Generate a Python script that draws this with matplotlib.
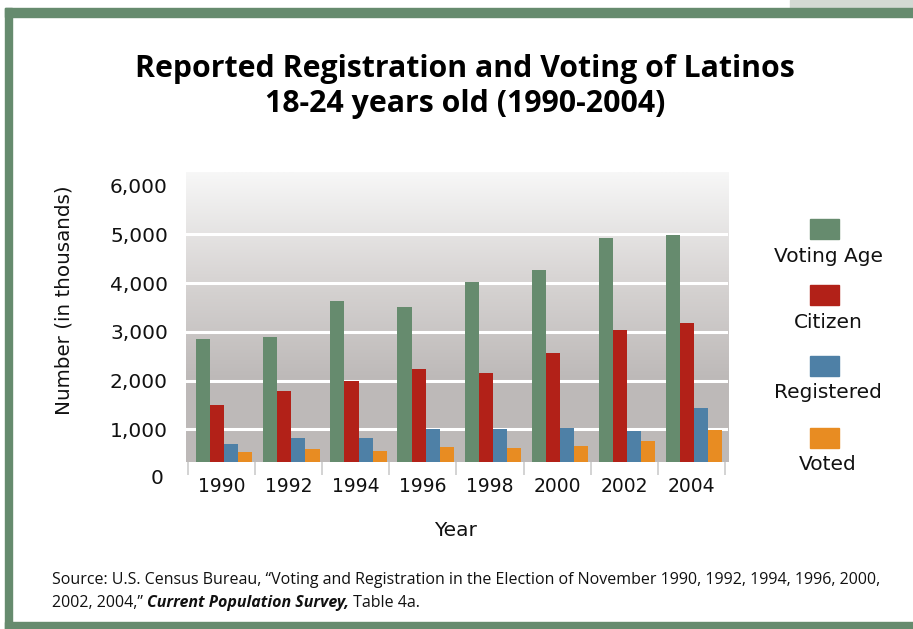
import numpy as np
import matplotlib
matplotlib.use("Agg")
import matplotlib.pyplot as plt
from matplotlib.patches import Rectangle
from matplotlib.colors import LinearSegmentedColormap
import matplotlib.transforms as mtransforms

# Data (in thousands)
years = ["1990", "1992", "1994", "1996", "1998", "2000", "2002", "2004"]
voting_age = [2850, 2890, 3630, 3510, 4020, 4270, 4920, 4990]
citizen = [1500, 1790, 1990, 2240, 2150, 2560, 3040, 3180]
registered = [700, 820, 820, 1010, 1010, 1030, 970, 1440]
voted = [530, 595, 555, 635, 615, 655, 760, 985]

series_names = ["Voting Age", "Citizen", "Registered", "Voted"]
series_values = [voting_age, citizen, registered, voted]
series_colors = ["#668b6e", "#b22118", "#4e80a6", "#e88c22"]
y_ticks = [1000, 2000, 3000, 4000, 5000, 6000]
y_tick_labels = ["1,000", "2,000", "3,000", "4,000", "5,000", "6,000"]

W, H = 913, 629
fig = plt.figure(figsize=(W / 100, H / 100), dpi=100)
fig.patch.set_facecolor("white")

# Frame decoration
def fig_rect(x0, y0, x1, y1, color):
    fig.patches.append(Rectangle((x0 / W, 1 - y1 / H), (x1 - x0) / W, (y1 - y0) / H,
                                 transform=fig.transFigure, color=color, zorder=0))

fig_rect(790, 0, 913, 8, "#d3d9d3")
fig_rect(5, 8, 913, 17, "#668b6e")
fig_rect(5, 8, 12, 629, "#668b6e")
fig_rect(5, 622, 913, 629, "#668b6e")

ax = fig.add_axes([186 / W, 1 - 462 / H, (728 - 186) / W, (462 - 172) / H])

y_min, y_max = 330, 6277
n = len(years)
x = np.arange(n)
ax.set_xlim(-0.53, n - 0.5 + 0.045)
ax.set_ylim(y_min, y_max)

# Gradient background
grad_cmap = LinearSegmentedColormap.from_list(
    "bg", [(0.0, "#bdb9b8"), (0.30, "#bebab9"), (0.65, "#d9d6d5"), (1.0, "#f7f7f7")])
grad = np.linspace(0, 1, 256).reshape(-1, 1)
ax.imshow(grad, cmap=grad_cmap, aspect="auto", origin="lower",
          extent=[0, 1, 0, 1], transform=ax.transAxes, zorder=0)

# Gridlines
for v in y_ticks[:-1]:
    ax.axhline(v, color="white", lw=2.2, zorder=1)

# Bars
bw = 0.21
offsets = (np.arange(4) - 1.5) * bw + 0.04
for vals, col, off in zip(series_values, series_colors, offsets):
    ax.bar(x + off, np.array(vals) - y_min, bw, bottom=y_min, color=col,
           zorder=2, linewidth=0)

for s in ax.spines.values():
    s.set_visible(False)

ax.set_yticks(y_ticks)
ax.set_yticklabels(y_tick_labels, fontsize=14.5, color="#111111")
ax.tick_params(axis="y", length=0, pad=13)
ax.set_xticks(x)
ax.set_xticklabels(years, fontsize=13.5, color="#111111")
ax.tick_params(axis="x", length=0, pad=11)

# Zero label below the plotted range
ytrans = mtransforms.blended_transform_factory(ax.transAxes, ax.transData)
ax.text(-0.042, 0, "0", transform=ytrans, ha="right", va="center",
        fontsize=14.5, color="#111111", clip_on=False)

# Category separators
xtrans = mtransforms.blended_transform_factory(ax.transData, ax.transAxes)
ax.vlines(np.arange(n + 1) - 0.5, -0.045, 0, transform=xtrans, colors="#cccccc",
          lw=1.2, clip_on=False)

ax.set_ylabel("Number (in thousands)", fontsize=14.3, color="#111111")
ax.yaxis.set_label_coords((74 - 186) / (728 - 186), 0.5 - (300 - 317) / 290)
fig.text(455 / W, 1 - 530 / H, "Year", fontsize=14.5, ha="center", va="center",
         color="#111111")

# Title
fig.text(465 / W, 1 - 69 / H, "Reported Registration and Voting of Latinos",
         fontsize=21.8, fontweight="bold", ha="center", va="center",
         family="Open Sans", color="black")
fig.text(465 / W, 1 - 104 / H, "18-24 years old (1990-2004)",
         fontsize=21.8, fontweight="bold", ha="center", va="center",
         family="Open Sans", color="black")

# Legend
sq_tops = [219, 285, 356, 428]
txt_y = [257, 322, 393, 465]
for name, col, top, ty in zip(series_names, series_colors, sq_tops, txt_y):
    fig_rect(810, top, 839, top + 20, col)
    fig.text(828 / W, 1 - ty / H, name, fontsize=14.5, ha="center", va="center",
             color="#111111")

# Source note
src_size = 11.5
fig.text(52 / W, 1 - 580 / H,
         "Source: U.S. Census Bureau, \u201cVoting and Registration in the Election of "
         "November 1990, 1992, 1994, 1996, 2000,",
         fontsize=src_size, family="Open Sans", ha="left", va="center", color="#111111")
t1 = fig.text(52 / W, 1 - 603 / H, "2002, 2004,\u201d ",
              fontsize=src_size, family="Open Sans", ha="left", va="center", color="#111111")
fig.canvas.draw()
bb = t1.get_window_extent()
t2 = fig.text(bb.x1 / W, 1 - 603 / H, "Current Population Survey,",
              fontsize=src_size, family="Open Sans", style="italic", fontweight="bold",
              ha="left", va="center", color="#111111")
fig.canvas.draw()
bb2 = t2.get_window_extent()
fig.text(bb2.x1 / W, 1 - 603 / H, " Table 4a.",
         fontsize=src_size, family="Open Sans", ha="left", va="center", color="#111111")

fig.savefig("out.png", dpi=100)
